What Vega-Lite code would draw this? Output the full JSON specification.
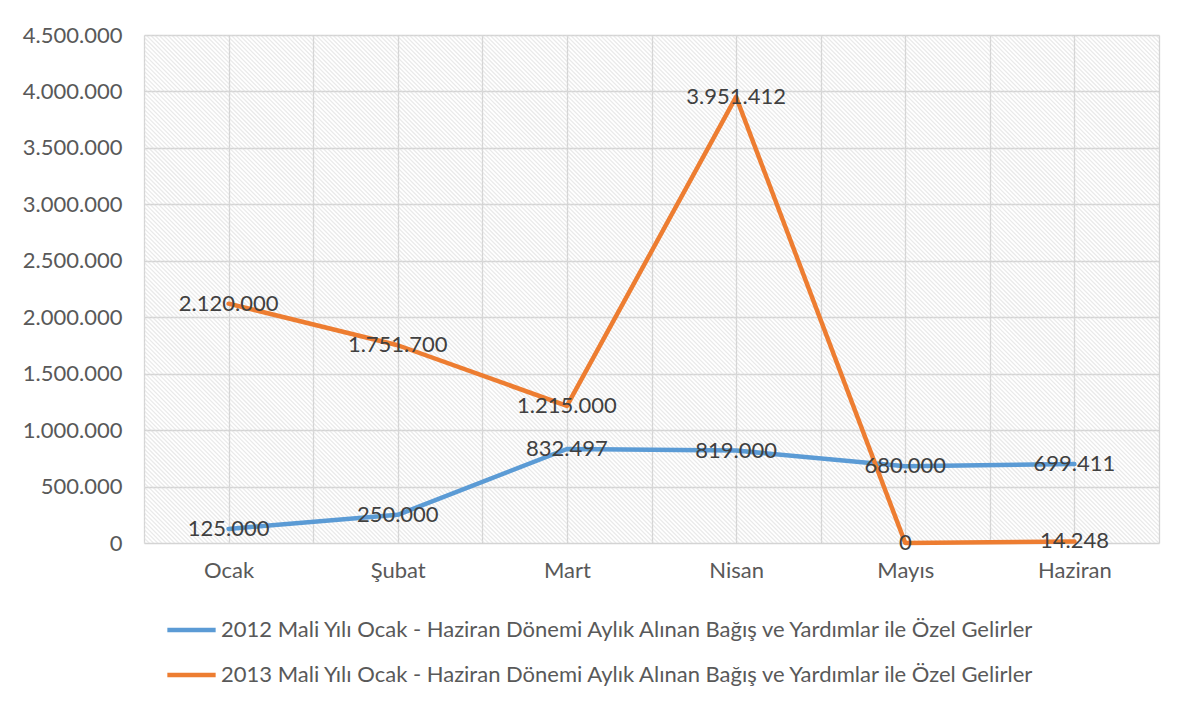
{
  "$schema": "https://vega.github.io/schema/vega-lite/v6.json",
  "width": 1015,
  "height": 508,
  "autosize": {"type": "none"},
  "padding": {"left": 144, "top": 35, "right": 24, "bottom": 161},
  "background": "white",
  "config": {
    "font": "Lato",
    "locale": {"number": {"decimal": ",", "thousands": ".", "grouping": [3], "currency": ["", " TL"]}},
    "view": {"stroke": null},
    "axis": {
      "labelFont": "Lato",
      "labelFontSize": 22,
      "labelColor": "#595959",
      "ticks": false,
      "domain": false,
      "grid": true,
      "gridColor": "#d4d4d4",
      "gridOpacity": 1,
      "gridWidth": 1.3
    }
  },
  "data": {
    "values": [
      {"month": "Ocak", "i": 0, "series": "2012 Mali Yılı Ocak - Haziran Dönemi Aylık Alınan Bağış ve Yardımlar ile Özel Gelirler", "value": 125000},
      {"month": "Şubat", "i": 1, "series": "2012 Mali Yılı Ocak - Haziran Dönemi Aylık Alınan Bağış ve Yardımlar ile Özel Gelirler", "value": 250000},
      {"month": "Mart", "i": 2, "series": "2012 Mali Yılı Ocak - Haziran Dönemi Aylık Alınan Bağış ve Yardımlar ile Özel Gelirler", "value": 832497},
      {"month": "Nisan", "i": 3, "series": "2012 Mali Yılı Ocak - Haziran Dönemi Aylık Alınan Bağış ve Yardımlar ile Özel Gelirler", "value": 819000},
      {"month": "Mayıs", "i": 4, "series": "2012 Mali Yılı Ocak - Haziran Dönemi Aylık Alınan Bağış ve Yardımlar ile Özel Gelirler", "value": 680000},
      {"month": "Haziran", "i": 5, "series": "2012 Mali Yılı Ocak - Haziran Dönemi Aylık Alınan Bağış ve Yardımlar ile Özel Gelirler", "value": 699411},
      {"month": "Ocak", "i": 0, "series": "2013 Mali Yılı Ocak - Haziran Dönemi Aylık Alınan Bağış ve Yardımlar ile Özel Gelirler", "value": 2120000},
      {"month": "Şubat", "i": 1, "series": "2013 Mali Yılı Ocak - Haziran Dönemi Aylık Alınan Bağış ve Yardımlar ile Özel Gelirler", "value": 1751700},
      {"month": "Mart", "i": 2, "series": "2013 Mali Yılı Ocak - Haziran Dönemi Aylık Alınan Bağış ve Yardımlar ile Özel Gelirler", "value": 1215000},
      {"month": "Nisan", "i": 3, "series": "2013 Mali Yılı Ocak - Haziran Dönemi Aylık Alınan Bağış ve Yardımlar ile Özel Gelirler", "value": 3951412},
      {"month": "Mayıs", "i": 4, "series": "2013 Mali Yılı Ocak - Haziran Dönemi Aylık Alınan Bağış ve Yardımlar ile Özel Gelirler", "value": 0},
      {"month": "Haziran", "i": 5, "series": "2013 Mali Yılı Ocak - Haziran Dönemi Aylık Alınan Bağış ve Yardımlar ile Özel Gelirler", "value": 14248}
    ]
  },
  "layer": [
    {
      "data": {"values": [{}]},
      "mark": {"type": "rule", "clip": true, "strokeWidth": 1500, "strokeDash": [1.3, 1.7], "color": "#dcdcdc", "opacity": 0.6, "strokeCap": "butt"},
      "encoding": {
        "x": {"datum": -0.5, "type": "quantitative", "title": null},
        "x2": {"datum": 5.5},
        "y": {"datum": 0, "type": "quantitative", "title": null},
        "y2": {"datum": 8991142}
      }
    },
    {
      "mark": {"type": "line", "strokeWidth": 4.5, "strokeCap": "round", "strokeJoin": "round"},
      "encoding": {
        "x": {
          "field": "i",
          "type": "quantitative",
          "title": null,
          "scale": {"domain": [-0.5, 5.5], "nice": false, "zero": false},
          "axis": {
            "grid": true,
            "values": [-0.5, 0, 0.5, 1, 1.5, 2, 2.5, 3, 3.5, 4, 4.5, 5, 5.5],
            "labelExpr": "datum.value % 1 === 0 ? ['Ocak','Şubat','Mart','Nisan','Mayıs','Haziran'][datum.value] : ''",
            "labelOverlap": false,
            "labelFlush": false,
            "labelPadding": 17
          }
        },
        "y": {
          "field": "value",
          "type": "quantitative",
          "title": null,
          "scale": {"domain": [0, 4500000], "nice": false},
          "axis": {
            "grid": true,
            "values": [0, 500000, 1000000, 1500000, 2000000, 2500000, 3000000, 3500000, 4000000, 4500000],
            "format": ",d",
            "labelPadding": 22
          }
        },
        "color": {
          "field": "series",
          "type": "nominal",
          "scale": {"range": ["#5b9bd5", "#ed7d31"]},
          "legend": {
            "title": null,
            "orient": "none",
            "legendX": 34.5,
            "legendY": 582,
            "symbolType": "M-2.3,0H2.3",
            "symbolSize": 441,
            "symbolStrokeWidth": 4.5,
            "labelOffset": 16.5,
            "labelFont": "Lato",
            "labelFontSize": 22,
            "labelColor": "#595959",
            "labelLimit": 1200,
            "rowPadding": 21
          }
        }
      }
    },
    {
      "mark": {"type": "text", "fontSize": 22, "font": "Lato", "color": "#404040", "baseline": "middle", "align": "center"},
      "encoding": {
        "x": {"field": "i", "type": "quantitative"},
        "y": {"field": "value", "type": "quantitative"},
        "text": {"field": "value", "type": "quantitative", "format": ",d"}
      }
    }
  ]
}
